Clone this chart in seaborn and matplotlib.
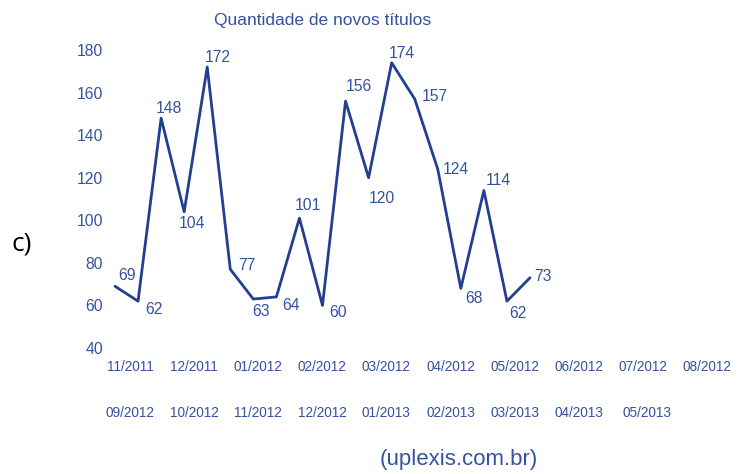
import matplotlib
matplotlib.use("Agg")
import matplotlib.pyplot as plt
import seaborn as sns
import pandas as pd

# ---- data ----
months = ["11/2011", "12/2011", "01/2012", "02/2012", "03/2012", "04/2012",
          "05/2012", "06/2012", "07/2012", "08/2012", "09/2012", "10/2012",
          "11/2012", "12/2012", "01/2013", "02/2013", "03/2013", "04/2013",
          "05/2013"]
values = [69, 62, 148, 104, 172, 77, 63, 64, 101, 60, 156, 120, 174, 157,
          124, 68, 114, 62, 73]
yticks = [40, 60, 80, 100, 120, 140, 160, 180]
title = "Quantidade de novos títulos"
source = "(uplexis.com.br)"

# label offsets in pixels (dx, dy)
offsets = [(12, 11), (16, -8), (8, 10), (8, -12), (11, 10), (17, 4), (8, -12),
           (15, -9), (8, 13), (16, -7), (13, 15), (13, -21), (10, 9), (20, 2),
           (18, 0), (13, -10), (14, 10), (11, -12), (13, 1)]

sns.set_style("white")
plt.rcParams["font.family"] = ["Liberation Sans", "DejaVu Sans"]

W, H = 738, 474
fig = plt.figure(figsize=(W / 100, H / 100), dpi=100)

def fx(px):
    return px / W

def fy(py):
    return 1 - py / H

ax_l, ax_r, ax_t, ax_b = 110, 540, 50, 348
ax = fig.add_axes([fx(ax_l), fy(ax_b), fx(ax_r - ax_l), (ax_b - ax_t) / H])

line_color = "#22408f"
text_color = "#34529f"

df = pd.DataFrame({"idx": range(len(values)), "value": values})
sns.lineplot(data=df, x="idx", y="value", ax=ax, color=line_color,
             linewidth=2.0)

step = (530 - 115) / 18
ax.set_xlim(-(115 - ax_l) / step, 18 + (ax_r - 530) / step)
ax.set_ylim(40, 180)
ax.set_yticks(yticks)
ax.set_yticklabels([str(t) for t in yticks], fontsize=11.3, color=text_color)
ax.set_xticks([])
ax.tick_params(axis="y", length=0, pad=5)
ax.set_xlabel("")
ax.set_ylabel("")
for s in ax.spines.values():
    s.set_visible(False)

for i, (v, (dx, dy)) in enumerate(zip(values, offsets)):
    ax.annotate(str(v), (i, v), xytext=(dx, dy), textcoords="offset pixels",
                ha="center", va="center", fontsize=11.3, color=text_color)

# month labels in two rows
row1 = months[:10]
row2 = months[10:]
for k, m in enumerate(row1):
    fig.text(fx(130 + 64.1 * k), fy(367), m, ha="center", va="center",
             fontsize=9.8, color=text_color)
for k, m in enumerate(row2):
    fig.text(fx(130 + 64.1 * k + (4 if k == 8 else 0)), fy(413), m,
             ha="center", va="center", fontsize=9.8, color=text_color)

fig.text(fx(323), fy(20), title, ha="center", va="center", fontsize=12.5,
         color=text_color)
fig.text(fx(459), fy(460), source, ha="center", va="center", fontsize=16,
         color=text_color)
fig.text(fx(22), fy(244), "c)", ha="center", va="center", fontsize=19,
         color="black", family=["Open Sans", "DejaVu Sans"])

fig.savefig("out.png", dpi=100)
